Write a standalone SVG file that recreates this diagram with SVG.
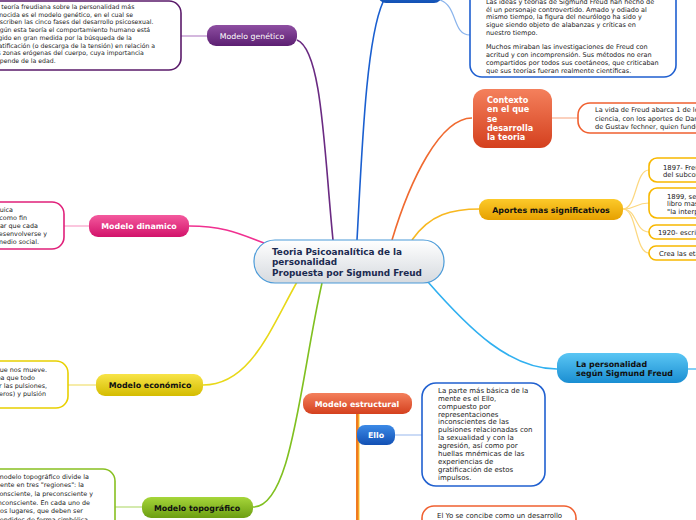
<svg xmlns="http://www.w3.org/2000/svg" width="696" height="520" viewBox="0 0 696 520">
<defs>
<linearGradient id="gCentral" x1="0" y1="0" x2="0" y2="1"><stop offset="0" stop-color="#ffffff"/><stop offset="1" stop-color="#d6dadf"/></linearGradient>
<linearGradient id="gPurple" x1="0" y1="0" x2="0" y2="1"><stop offset="0" stop-color="#8e4fa2"/><stop offset="1" stop-color="#5c1f72"/></linearGradient>
<linearGradient id="gPink" x1="0" y1="0" x2="0" y2="1"><stop offset="0" stop-color="#f45a9e"/><stop offset="1" stop-color="#d2126a"/></linearGradient>
<linearGradient id="gYellow" x1="0" y1="0" x2="0" y2="1"><stop offset="0" stop-color="#f8e448"/><stop offset="1" stop-color="#d4bc00"/></linearGradient>
<linearGradient id="gGreen" x1="0" y1="0" x2="0" y2="1"><stop offset="0" stop-color="#a6d63a"/><stop offset="1" stop-color="#6c9e12"/></linearGradient>
<linearGradient id="gRed" x1="0" y1="0" x2="0" y2="1"><stop offset="0" stop-color="#f4805c"/><stop offset="1" stop-color="#d4401e"/></linearGradient>
<linearGradient id="gBlue" x1="0" y1="0" x2="0" y2="1"><stop offset="0" stop-color="#3c8ae6"/><stop offset="1" stop-color="#1250b4"/></linearGradient>
<linearGradient id="gOrange" x1="0" y1="0" x2="0" y2="1"><stop offset="0" stop-color="#fcca2a"/><stop offset="1" stop-color="#e6a000"/></linearGradient>
<linearGradient id="gCyan" x1="0" y1="0" x2="0" y2="1"><stop offset="0" stop-color="#5ac6f4"/><stop offset="1" stop-color="#1a8ed2"/></linearGradient>
</defs>
<style>
.box{fill:#ffffff;stroke-width:1.6}
.small{font-family:"DejaVu Sans",Verdana,sans-serif;fill:#222222}
.lbl{font-family:"DejaVu Sans",Verdana,sans-serif;font-weight:bold;font-size:7.9px}
.w{fill:#ffffff}
.k{fill:#111111}
.main{fill:none;stroke-width:1.6}
.thin{fill:none;stroke-width:1.2}
</style>
<g id="connectors">
<path class="main" d="M297,40 C322,50 324,150 333,240" stroke="#6a2a82"/>
<path class="main" d="M383,2 C366,40 362,150 357,240" stroke="#1a5fd0"/>
<path class="thin" d="M440,0 C458,6 452,35 470,35" stroke="#8ab4ec"/>
<path class="main" d="M392,240 C410,180 440,118 472,118" stroke="#f06a30"/>
<path class="main" d="M412,240 C430,214 452,209 480,209" stroke="#f8b820"/>
<path class="main" d="M428,282 C470,330 510,369 557,369" stroke="#30b0f0"/>
<path class="main" d="M189,226 C225,226 240,234 264,243" stroke="#f03090"/>
<path class="main" d="M203,385 C250,385 270,330 297,282" stroke="#e8d818"/>
<path class="main" d="M322,283 C300,380 292,507 253,507" stroke="#80c020"/>
<path class="thin" d="M207,36 L181,36" stroke="#b888c8"/>
<path class="thin" d="M89,226 L64,226" stroke="#f8a0c8"/>
<path class="thin" d="M97,385 L68,385" stroke="#f0e070"/>
<path class="thin" d="M142,507 L115,507" stroke="#b8dc78"/>
<path class="thin" d="M552,118 L578,118" stroke="#f8b090"/>
<path class="thin" d="M395,435 L422,435" stroke="#a8c4f0"/>
<path class="thin" d="M688,369 L696,369" stroke="#30b0f0"/>
<path class="thin" d="M623,209 C637,209 635,170 649,170" stroke="#fcd880"/>
<path class="thin" d="M623,209 C637,209 635,203 649,203" stroke="#fcd880"/>
<path class="thin" d="M623,209 C637,209 635,232 649,232" stroke="#fcd880"/>
<path class="thin" d="M623,209 C637,209 635,253 649,253" stroke="#fcd880"/>
<line x1="357.5" y1="413" x2="357.5" y2="520" stroke="#f07a20" stroke-width="3"/>
<line x1="359" y1="413" x2="359" y2="520" stroke="#fcd030" stroke-width="1"/>
</g>
<g id="central">
<rect x="254" y="240" width="190" height="43" rx="21" fill="url(#gCentral)" stroke="#4a9ad8" stroke-width="1.2"/>
<text class="lbl" style="font-size:8.9px" fill="#1b2a50"><tspan x="272" y="254.5">Teoria Psicoanalítica de la</tspan><tspan x="272" y="265.3">personalidad</tspan><tspan x="272" y="276">Propuesta por Sigmund Freud</tspan></text>
</g>
<g id="top-node">
<rect x="378" y="-20" width="64" height="23" rx="8" fill="url(#gBlue)"/>
</g>
<g id="top-text">
<rect class="box" x="470" y="-12" width="206" height="89" rx="12" stroke="#1f5fd0"/>
<text class="small" style="font-size:6.5px"><tspan x="486" y="4">Las ideas y teorías de Sigmund Freud han hecho de</tspan><tspan x="486" y="11.6">él un personaje controvertido. Amado y odiado al</tspan><tspan x="486" y="19.2">mismo tiempo, la figura del neurólogo ha sido y</tspan><tspan x="486" y="26.8">sigue siendo objeto de alabanzas y críticas en</tspan><tspan x="486" y="34.5">nuestro tiempo.</tspan><tspan x="486" y="49">Muchos miraban las investigaciones de Freud con</tspan><tspan x="486" y="56.7">acritud y con incomprensión. Sus métodos no eran</tspan><tspan x="486" y="64.5">compartidos por todos sus coetáneos, que criticaban</tspan><tspan x="486" y="72.8">que sus teorías fueran realmente científicas.</tspan></text>
</g>
<g id="contexto">
<rect x="473" y="89" width="79" height="59" rx="12" fill="url(#gRed)"/>
<text class="lbl w" style="font-size:8.1px"><tspan x="487" y="103">Contexto</tspan><tspan x="487" y="112.3">en el que</tspan><tspan x="487" y="121.6">se</tspan><tspan x="487" y="130.9">desarrolla</tspan><tspan x="487" y="140.2">la teoria</tspan></text>
</g>
<g id="contexto-text">
<rect class="box" x="578" y="103" width="140" height="30" rx="12" stroke="#f06030"/>
<text class="small" style="font-size:6.6px"><tspan x="595" y="112.3">La vida de Freud abarca 1 de los</tspan><tspan x="595" y="120.6">ciencia, con los aportes de Darwin</tspan><tspan x="595" y="129">de Gustav fechner, quien fundó</tspan></text>
</g>
<g id="aportes">
<rect x="479" y="199" width="144" height="21" rx="9" fill="url(#gOrange)"/>
<text class="lbl k" x="551" y="212.5" text-anchor="middle">Aportes mas significativos</text>
</g>
<g id="aporte-1897">
<rect class="box" x="649" y="158" width="70" height="24" rx="8" stroke="#f8b800"/>
<text class="small" style="font-size:6.8px"><tspan x="663" y="169.5">1897- Freud</tspan><tspan x="663" y="177">del subconsciente</tspan></text>
</g>
<g id="aporte-1899">
<rect class="box" x="649" y="188" width="70" height="30" rx="8" stroke="#f8b800"/>
<text class="small" style="font-size:6.8px"><tspan x="667" y="198.5">1899, se</tspan><tspan x="667" y="206">libro mas</tspan><tspan x="667" y="213.5">"la interpretación</tspan></text>
</g>
<g id="aporte-1920">
<rect class="box" x="649" y="225" width="70" height="14" rx="7" stroke="#f8b800"/>
<text class="small" style="font-size:6.8px" x="658" y="234.5">1920- escribe</text>
</g>
<g id="aporte-etapas">
<rect class="box" x="649" y="246" width="70" height="14" rx="7" stroke="#f8b800"/>
<text class="small" style="font-size:6.8px" x="659" y="255.5">Crea las etapas</text>
</g>
<g id="personalidad">
<rect x="557" y="353" width="131" height="30" rx="12" fill="url(#gCyan)"/>
<text class="lbl k"><tspan x="576" y="367">La personalidad</tspan><tspan x="576" y="376.3">según Sigmund Freud</tspan></text>
</g>
<g id="genetico">
<rect x="207" y="25" width="90" height="21" rx="9" fill="url(#gPurple)"/>
<text x="252" y="38.8" text-anchor="middle" class="w" style="font-family:'DejaVu Sans',Verdana,sans-serif;font-size:7.8px">Modelo genético</text>
</g>
<g id="genetico-text">
<rect class="box" x="-20" y="1" width="201" height="69" rx="12" stroke="#5a1a6a"/>
<text class="small" style="font-size:6.2px"><tspan x="-8" y="8.8">La teoría freudiana sobre la personalidad más</tspan><tspan x="-8" y="16.5">conocida es el modelo genético, en el cual se</tspan><tspan x="-8" y="24.3">describen las cinco fases del desarrollo psicosexual.</tspan><tspan x="-8" y="32">Según esta teoría el comportamiento humano está</tspan><tspan x="-8" y="39.8">regido en gran medida por la búsqueda de la</tspan><tspan x="-8" y="47.6">gratificación (o descarga de la tensión) en relación a</tspan><tspan x="-8" y="55.3">las zonas erógenas del cuerpo, cuya importancia</tspan><tspan x="-8" y="63.1">depende de la edad.</tspan></text>
</g>
<g id="dinamico">
<rect x="89" y="215" width="100" height="22" rx="9" fill="url(#gPink)"/>
<text class="lbl w" x="139" y="228.8" text-anchor="middle">Modelo dinamico</text>
</g>
<g id="dinamico-text">
<rect class="box" x="-20" y="202" width="84" height="47" rx="12" stroke="#e0207a"/>
<text class="small" style="font-size:6.4px" text-anchor="end"><tspan x="13" y="212">energía psíquica</tspan><tspan x="27" y="220">que tiene como fin</tspan><tspan x="38" y="228">lograr que cada</tspan><tspan x="47" y="235.7">pueda desenvolverse y</tspan><tspan x="39" y="244">adaptarse al medio social.</tspan></text>
</g>
<g id="economico">
<rect x="96" y="374" width="107" height="22" rx="9" fill="url(#gYellow)"/>
<text class="lbl k" x="150" y="388" text-anchor="middle">Modelo económico</text>
</g>
<g id="economico-text">
<rect class="box" x="-20" y="361" width="88" height="47" rx="12" stroke="#e8d000"/>
<text class="small" style="font-size:6.4px" text-anchor="end"><tspan x="47" y="372">la energía que nos mueve.</tspan><tspan x="35" y="380">Plantea que todo</tspan><tspan x="47" y="388">está movido por las pulsiones,</tspan><tspan x="46" y="395.6">de vida (eros) y pulsión</tspan></text>
</g>
<g id="topografico">
<rect x="142" y="497" width="111" height="21" rx="9" fill="url(#gGreen)"/>
<text class="lbl k" x="197" y="510.5" text-anchor="middle">Modelo topográfico</text>
</g>
<g id="topografico-text">
<rect class="box" x="-20" y="469" width="135" height="70" rx="12" stroke="#88c020"/>
<text class="small" style="font-size:6.4px" text-anchor="end"><tspan x="89" y="479">El modelo topográfico divide la</tspan><tspan x="84" y="487">mente en tres "regiones": la</tspan><tspan x="93" y="495.5">consciente, la preconsciente y</tspan><tspan x="90" y="505">la inconsciente. En cada uno de</tspan><tspan x="83" y="513">estos lugares, que deben ser</tspan><tspan x="88" y="521.5">entendidos de forma simbólica</tspan></text>
</g>
<g id="estructural">
<rect x="303" y="393" width="109" height="21" rx="9" fill="url(#gRed)"/>
<text class="lbl w" x="357" y="406.5" text-anchor="middle">Modelo estructural</text>
</g>
<g id="ello">
<rect x="357" y="425" width="38" height="20" rx="8" fill="url(#gBlue)"/>
<text class="lbl w" x="376" y="438" text-anchor="middle">Ello</text>
</g>
<g id="ello-text">
<rect class="box" x="422" y="383" width="123" height="103" rx="14" stroke="#2060d0"/>
<text class="small" style="font-size:7px"><tspan x="438" y="393.3">La parte más básica de la</tspan><tspan x="438" y="401">mente es el Ello,</tspan><tspan x="438" y="408.8">compuesto por</tspan><tspan x="438" y="416.6">representaciones</tspan><tspan x="438" y="424.4">inconscientes de las</tspan><tspan x="438" y="432.4">pulsiones relacionadas con</tspan><tspan x="438" y="440.2">la sexualidad y con la</tspan><tspan x="438" y="448">agresión, así como por</tspan><tspan x="438" y="455.8">huellas mnémicas de las</tspan><tspan x="438" y="464">experiencias de</tspan><tspan x="438" y="472">gratificación de estos</tspan><tspan x="438" y="480">impulsos.</tspan></text>
</g>
<g id="yo-text">
<rect class="box" x="422" y="506" width="154" height="30" rx="12" stroke="#f06030"/>
<text class="small" style="font-size:7px" x="437" y="517.5">El Yo se concibe como un desarrollo</text>
</g>
</svg>
